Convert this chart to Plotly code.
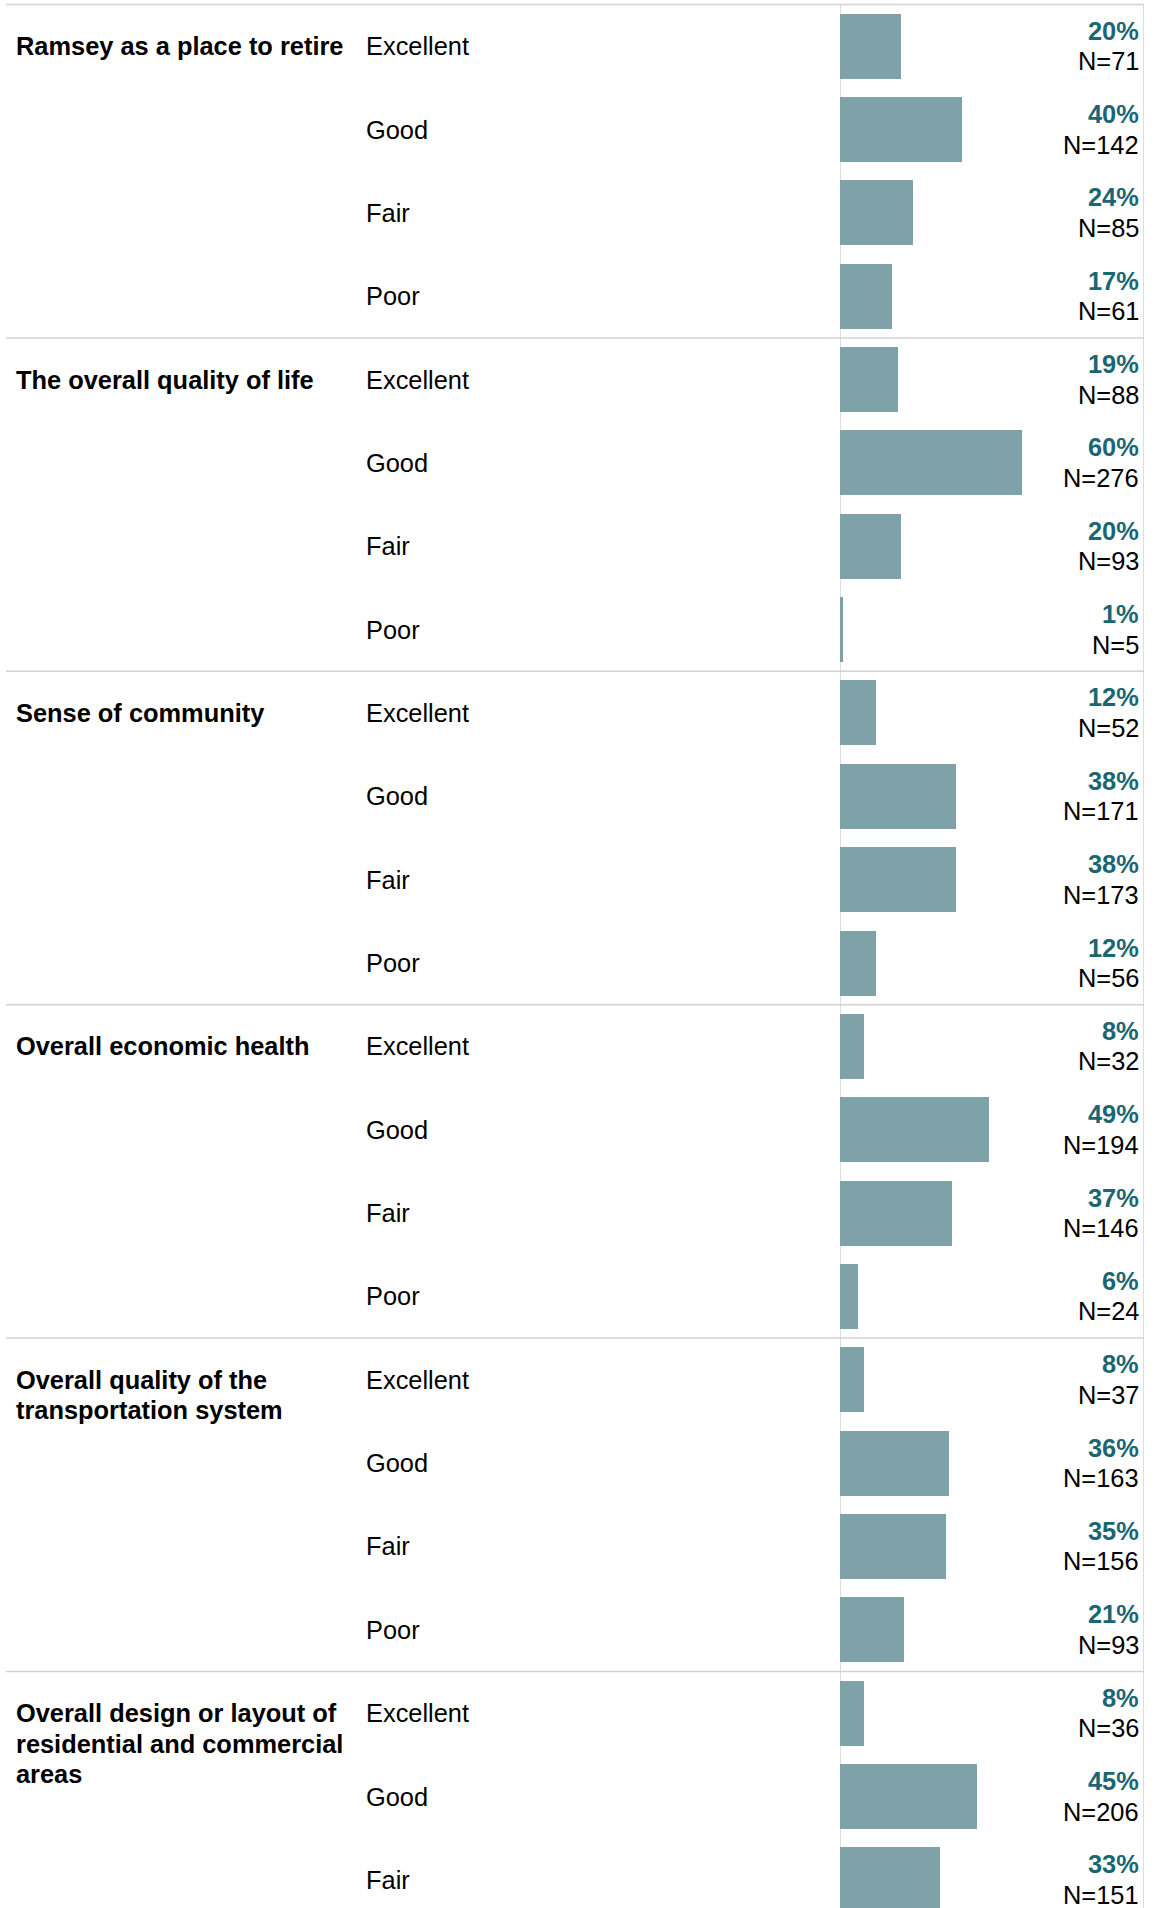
import plotly.graph_objects as go

W, H = 1159, 1908

ratings = ["Excellent", "Good", "Fair", "Poor"]

questions = [
    "Ramsey as a place to retire",
    "The overall quality of life",
    "Sense of community",
    "Overall economic health",
    "Overall quality of the<br>transportation system",
    "Overall design or layout of<br>residential and commercial<br>areas",
]

pct_retire = [20, 40, 24, 17]
n_retire = [71, 142, 85, 61]

pct_quality_life = [19, 60, 20, 1]
n_quality_life = [88, 276, 93, 5]

pct_community = [12, 38, 38, 12]
n_community = [52, 171, 173, 56]

pct_economic = [8, 49, 37, 6]
n_economic = [32, 194, 146, 24]

pct_transport = [8, 36, 35, 21]
n_transport = [37, 163, 156, 93]

# last group is cut off at the bottom of the picture (Poor not visible)
pct_design = [8, 45, 33]
n_design = [36, 206, 151]

pcts = [pct_retire, pct_quality_life, pct_community, pct_economic, pct_transport, pct_design]
ns = [n_retire, n_quality_life, n_community, n_economic, n_transport, n_design]

BAR_COLOR = "#7fa1a8"
PCT_COLOR = "#1a6672"
LINE_COLOR = "#d2d2d2"
FONT = "Liberation Sans, Arial, sans-serif"
FS = 25.4

# layout geometry (pixels)
TOP = 4.5
ROW_H = 83.35
N_ROWS_PER_GROUP = len(ratings)
y_top = -0.5 - TOP / ROW_H
y_bottom = (H - TOP) / ROW_H - 0.5

bar_x, bar_y = [], []
annotations = []
for g, (q, pl, nl) in enumerate(zip(questions, pcts, ns)):
    base = g * N_ROWS_PER_GROUP
    for i, line in enumerate(q.split("<br>")):
        annotations.append(dict(
            x=14 / W, xref="paper", y=base, yref="y", yshift=-i * 30.5,
            text=f"<b>{line}</b>", showarrow=False, xanchor="left", yanchor="middle",
            font=dict(family=FONT, size=FS, color="#000000")))
    for r, (p, n) in enumerate(zip(pl, nl)):
        yk = base + r
        bar_x.append(p)
        bar_y.append(yk)
        annotations.append(dict(
            x=364 / W, xref="paper", y=yk, yref="y",
            text=ratings[r], showarrow=False, xanchor="left", yanchor="middle",
            font=dict(family=FONT, size=FS, color="#000000")))
        annotations.append(dict(
            x=1141 / W, xref="paper", y=yk, yref="y", yshift=15.5,
            text=f"<b>{p}%</b>", showarrow=False, xanchor="right", yanchor="middle",
            font=dict(family=FONT, size=FS, color=PCT_COLOR)))
        annotations.append(dict(
            x=1141 / W, xref="paper", y=yk, yref="y", yshift=-15,
            text=f"N={n}", showarrow=False, xanchor="right", yanchor="middle",
            font=dict(family=FONT, size=FS, color="#000000")))

fig = go.Figure()
fig.add_trace(go.Bar(
    x=bar_x, y=bar_y, orientation="h", width=0.78,
    marker=dict(color=BAR_COLOR, line=dict(width=0)),
    hoverinfo="skip", showlegend=False))

shapes = []
for g in range(len(questions)):
    yb = g * N_ROWS_PER_GROUP - 0.5
    shapes.append(dict(type="line", xref="paper", yref="y",
                       x0=6 / W, x1=1144 / W, y0=yb, y1=yb,
                       line=dict(color=LINE_COLOR, width=1.5), layer="above"))
for xv in (0, 100):
    shapes.append(dict(type="line", xref="x", yref="y",
                       x0=xv, x1=xv, y0=-0.5, y1=y_bottom,
                       line=dict(color=LINE_COLOR, width=1.5), layer="below"))

fig.update_layout(
    width=W, height=H,
    margin=dict(l=0, r=0, t=0, b=0),
    paper_bgcolor="white", plot_bgcolor="white",
    xaxis=dict(domain=[840 / W, 1144 / W], range=[0, 100], visible=False, fixedrange=True),
    yaxis=dict(range=[y_bottom, y_top], visible=False, fixedrange=True),
    shapes=shapes,
    annotations=annotations,
    bargap=0,
)

fig.write_html(
    "out.html",
    config={"displayModeBar": False},
    post_script="document.body.style.margin='0';document.body.style.overflow='hidden';",
)
